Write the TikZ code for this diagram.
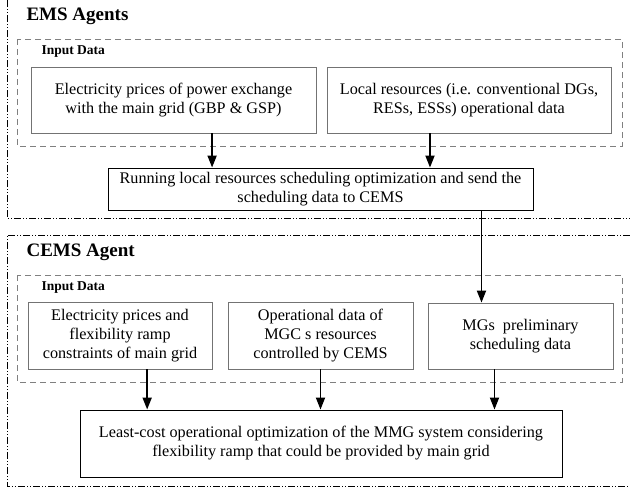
\documentclass[tikz,border=0pt]{standalone}
\usepackage{fontspec}
\setmainfont{Liberation Serif}
\usetikzlibrary{calc,arrows.meta}

\begin{document}
\begin{tikzpicture}[x=1pt, y=-1pt,
                  gris/.style={draw=black!55, line width=0.8pt, align=center, font=\fontsize{16.2}{19}\selectfont},
                  noir/.style={draw=black, line width=0.9pt, align=center, font=\fontsize{16.2}{19}\selectfont},
                  cadre/.style={draw=black!50, line width=0.8pt, dash pattern=on 6pt off 4pt},
                  agent/.style={line width=0.6pt, dash pattern=on 7pt off 2pt on 1pt off 2pt on 1pt off 2pt},
                  titre/.style={anchor=west, font=\fontsize{19}{21}\selectfont\bfseries},
                  soustitre/.style={anchor=west, font=\fontsize{13.5}{15}\selectfont\bfseries},
                  fleche/.style={-{Triangle[length=12pt,width=9pt]}, line width=1.8pt}]
\useasboundingbox (0,0) rectangle (630,490);
% cadres des agents
\draw[agent] (7,0) -- (7,218) -- (630,218);
\draw[agent] (630,235) -- (7,235) -- (7,486) -- (630,486);
\node[titre] (ems) at (23,16) {EMS Agents};
\node[titre] (cems) at (23,252) {CEMS Agent};
% donnees d'entree
\draw[cadre] (17,39) rectangle (622,146);
\draw[cadre] (17,275) rectangle (622,382);
\node[soustitre] (in1) at (38,52) {Input Data};
\node[soustitre] (in2) at (38,288) {Input Data};
% boites
\node[gris, minimum width=285, minimum height=66] (prix) at (173.5,100)
  {Electricity prices of power exchange\\with the main grid (GBP \& GSP)};
\node[gris, minimum width=284, minimum height=66] (local) at (469,100)
  {Local resources (i.e. conventional DGs,\\RESs, ESSs) operational data};
\node[noir, minimum width=425, minimum height=42] (run) at (320.5,189)
  {Running local resources scheduling optimization and send the\\scheduling data to CEMS};
\node[gris, minimum width=184, minimum height=67] (rampe) at (120,335.5)
  {Electricity prices and\\flexibility ramp\\constraints of main grid};
\node[gris, minimum width=185, minimum height=67] (mgc) at (320.5,335.5)
  {Operational data of\\MGC s resources\\controlled by CEMS};
\node[gris, minimum width=185, minimum height=66] (prelim) at (520.5,336)
  {MGs~~preliminary\\scheduling data};
\node[noir, minimum width=482, minimum height=67] (opt) at (321,443.5)
  {Least-cost operational optimization of the MMG system considering\\flexibility ramp that could be provided by main grid};
% fleches
\coordinate (a1) at ($(prix.south west)!0.635!(prix.south east)$);
\coordinate (a2) at ($(local.south west)!0.363!(local.south east)$);
\coordinate (a3) at ($(run.south west)!0.878!(run.south east)$);
\coordinate (a4) at ($(rampe.south west)!0.647!(rampe.south east)$);
\coordinate (a6) at ($(prelim.south west)!0.36!(prelim.south east)$);
\draw[fleche] (a1) -- (a1 |- run.north);
\draw[fleche] (a2) -- (a2 |- run.north);
\draw[fleche] (a3) -- (a3 |- prelim.north);
\draw[fleche] (a4) -- (a4 |- opt.north);
\draw[fleche] (mgc.south) -- (mgc.south |- opt.north);
\draw[fleche] (a6) -- (a6 |- opt.north);
\end{tikzpicture}
\end{document}
